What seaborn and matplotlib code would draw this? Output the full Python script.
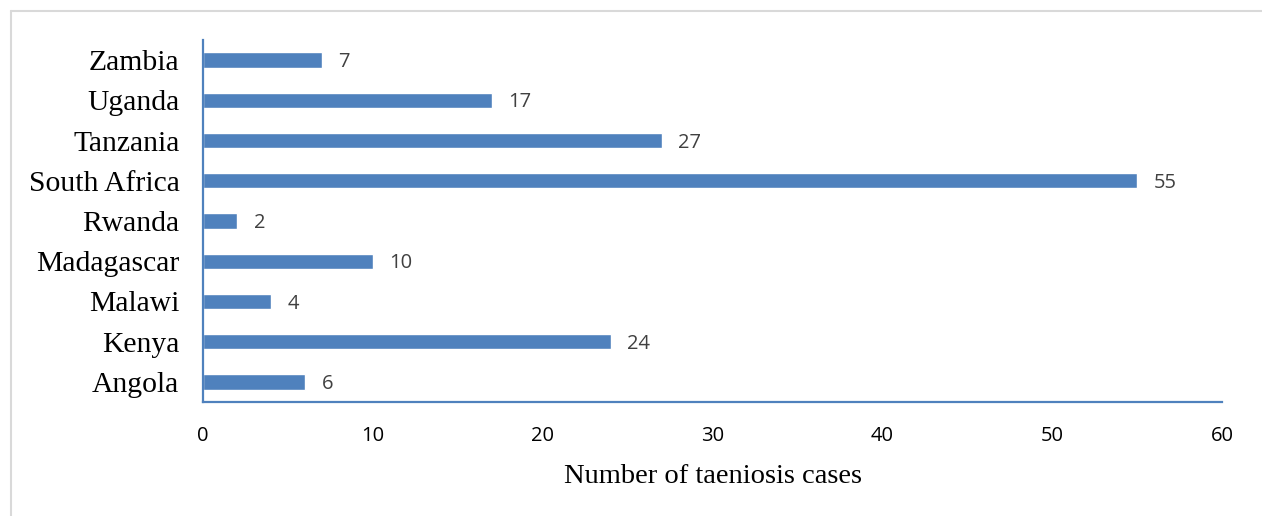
import matplotlib
matplotlib.use("Agg")
import matplotlib.pyplot as plt
import seaborn as sns
import pandas as pd
from matplotlib.lines import Line2D

countries = ["Zambia", "Uganda", "Tanzania", "South Africa", "Rwanda",
             "Madagascar", "Malawi", "Kenya", "Angola"]
cases = [7, 17, 27, 55, 2, 10, 4, 24, 6]
xticks = [0, 10, 20, 30, 40, 50, 60]

df = pd.DataFrame({"country": countries, "cases": cases})

sns.set_theme(style="white")
BLUE = "#4F81BD"

fig = plt.figure(figsize=(12.62, 5.16), dpi=100)
ax = fig.add_axes([203/1262, 1-402/516, (1222-203)/1262, (402-40)/516])

sns.barplot(data=df, x="cases", y="country", orient="h", color=BLUE,
            saturation=1, width=0.38, ax=ax)

for c in ax.containers:
    labels = ax.bar_label(c, padding=12, fontsize=14.5, color="#404040", family="Open Sans")
    for t in labels:
        t.xyann = (12, -1.5)

ax.set_xlim(0, 60)
ax.set_ylim(8.5, -0.5)
ax.set_xticks(xticks)
ax.set_xticklabels([str(t) for t in xticks], fontsize=14.5, family="Open Sans", color="black")
ax.set_yticks(range(len(countries)))
ax.set_yticklabels(countries, fontsize=21.3, family="Liberation Serif", color="black")
ax.tick_params(axis="x", length=0, pad=17)
ax.tick_params(axis="y", length=0, pad=17)
ax.set_xlabel("Number of taeniosis cases", fontsize=20.5, family="Liberation Serif",
              color="black", labelpad=13)
ax.set_ylabel("")

for s in ["top", "right"]:
    ax.spines[s].set_visible(False)
for s in ["left", "bottom"]:
    ax.spines[s].set_color(BLUE)
    ax.spines[s].set_linewidth(1.6)

# figure frame (light gray)
fig.add_artist(Line2D([10.5/1262, 1], [1-10.5/516, 1-10.5/516], color="#D9D9D9", lw=1.5,
                      transform=fig.transFigure))
fig.add_artist(Line2D([10.5/1262, 10.5/1262], [0, 1-10.5/516], color="#D9D9D9", lw=1.5,
                      transform=fig.transFigure))

fig.savefig("out.png", dpi=100, facecolor="white")
